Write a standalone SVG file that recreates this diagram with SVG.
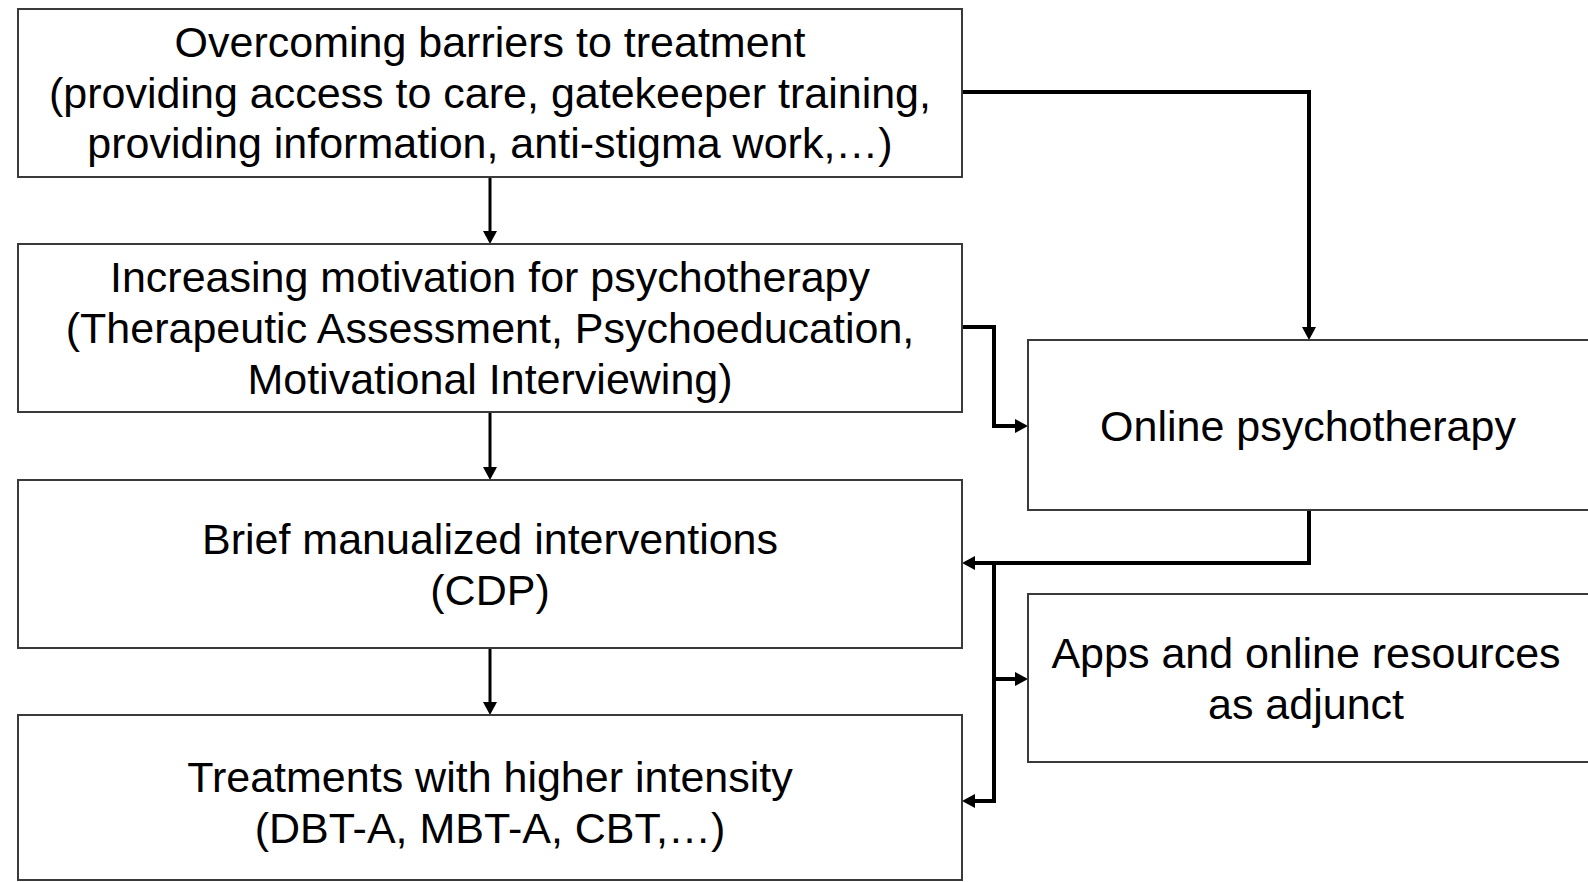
<svg xmlns="http://www.w3.org/2000/svg" width="1588" height="882" viewBox="0 0 1588 882">
  <defs>
    <style>
      .box { fill: #ffffff; stroke: #3a3a3a; stroke-width: 2; }
      .lbl { font-family: "Liberation Sans", Arial, sans-serif; font-size: 43px; fill: #000000; text-anchor: middle; }
      .conn { fill: none; stroke: #000000; stroke-width: 4; stroke-linejoin: miter; }
      .conn-thin { fill: none; stroke: #000000; stroke-width: 3; }
    </style>
    <marker id="arrow" markerUnits="userSpaceOnUse" markerWidth="14" markerHeight="14" viewBox="0 0 13 14" refX="6" refY="7" orient="auto">
      <path d="M0,0 L13,7 L0,14 Z" fill="#000000"/>
    </marker>
  </defs>
  <rect x="0" y="0" width="1588" height="882" fill="#ffffff"/>

  <g id="connectors">
    <path class="conn-thin" d="M490,177 L490,237" marker-end="url(#arrow)"/>
    <path class="conn-thin" d="M490,412 L490,473" marker-end="url(#arrow)"/>
    <path class="conn-thin" d="M490,648 L490,708" marker-end="url(#arrow)"/>
    <path class="conn" d="M962,92 L1309,92 L1309,333" marker-end="url(#arrow)"/>
    <path class="conn" d="M962,327 L994,327 L994,426 L1021,426" marker-end="url(#arrow)"/>
    <path class="conn" d="M1309,510 L1309,563 L969,563" marker-end="url(#arrow)"/>
    <path class="conn" d="M994,563 L994,801 L969,801" marker-end="url(#arrow)"/>
    <path class="conn" d="M994,679 L1021,679" marker-end="url(#arrow)"/>
  </g>

  <g id="node-barriers">
    <rect class="box" x="18" y="9" width="944" height="168"/>
    <text class="lbl" x="490" y="57">Overcoming barriers to treatment</text>
    <text class="lbl" x="490" y="108">(providing access to care, gatekeeper training,</text>
    <text class="lbl" x="490" y="158">providing information, anti-stigma work,…)</text>
  </g>

  <g id="node-motivation">
    <rect class="box" x="18" y="244" width="944" height="168"/>
    <text class="lbl" x="490" y="292">Increasing motivation for psychotherapy</text>
    <text class="lbl" x="490" y="343">(Therapeutic Assessment, Psychoeducation,</text>
    <text class="lbl" x="490" y="394">Motivational Interviewing)</text>
  </g>

  <g id="node-brief">
    <rect class="box" x="18" y="480" width="944" height="168"/>
    <text class="lbl" x="490" y="554">Brief manualized interventions</text>
    <text class="lbl" x="490" y="605">(CDP)</text>
  </g>

  <g id="node-higher">
    <rect class="box" x="18" y="715" width="944" height="165"/>
    <text class="lbl" x="490" y="792">Treatments with higher intensity</text>
    <text class="lbl" x="490" y="843">(DBT-A, MBT-A, CBT,…)</text>
  </g>

  <g id="node-online">
    <rect class="box" x="1028" y="340" width="580" height="170"/>
    <text class="lbl" x="1308" y="441">Online psychotherapy</text>
  </g>

  <g id="node-apps">
    <rect class="box" x="1028" y="594" width="580" height="168"/>
    <text class="lbl" x="1306" y="668">Apps and online resources</text>
    <text class="lbl" x="1306" y="719">as adjunct</text>
  </g>
</svg>
